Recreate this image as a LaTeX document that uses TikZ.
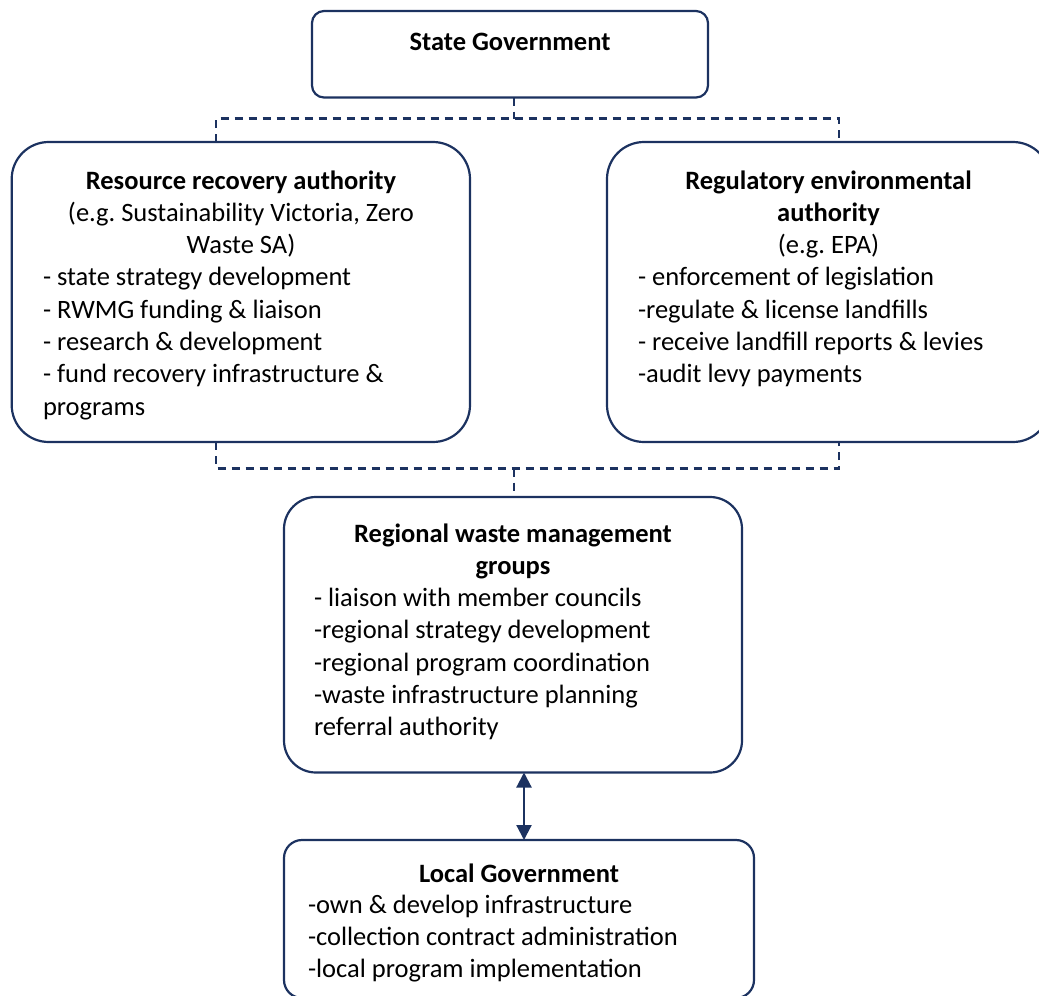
\documentclass[tikz,border=0pt]{standalone}
\usepackage{fontspec}
\setmainfont{Carlito}
\frenchspacing
\usetikzlibrary{arrows.meta}
\definecolor{navy}{RGB}{28,50,96}
\tikzset{
  box/.style={draw=navy, line width=2.2pt, fill=white, inner sep=0pt, outer sep=0pt},
  txt/.style={inner sep=0pt, outer sep=0pt, font=\fontsize{26.5}{32.3}\selectfont, text=black},
  ttl/.style={txt, font=\fontsize{26.5}{32.3}\selectfont\bfseries, anchor=base},
  item/.style={txt, anchor=base west},
  ctr/.style={txt, anchor=base},
  dashconn/.style={draw=navy, line width=2.2pt, dash pattern=on 8pt off 6pt},
  arrconn/.style={draw=navy, line width=2.2pt, {Triangle[length=15pt,width=15pt]}-{Triangle[length=15pt,width=15pt]}}
}
\begin{document}
\begin{tikzpicture}[x=1pt,y=-1pt]
\useasboundingbox (0,0) rectangle (1039,996);

% boxes
\node[box, rounded corners=12pt, minimum width=396pt, minimum height=86.5pt] (state) at (510,54.25) {};
\node[box, rounded corners=37pt, minimum width=458.3pt, minimum height=300pt] (res) at (240.85,292) {};
\node[box, rounded corners=37pt, minimum width=443pt, minimum height=300pt] (reg) at (828.5,292) {};
\node[box, rounded corners=32pt, minimum width=458pt, minimum height=275.5pt] (rwmg) at (513,634.75) {};
\node[box, rounded corners=18pt, minimum width=470pt, minimum height=158pt] (local) at (519,919) {};

% connector coordinates
\coordinate (j1) at (514,118.5);
\coordinate (tl) at (216,118.5);
\coordinate (tr) at (839,118.5);
\coordinate (j2) at (514,468.5);
\coordinate (bl) at (216,468.5);
\coordinate (br) at (839,468.5);
\coordinate (ax) at (524,800);

% connectors
\draw[dashconn] (state.south -| j1) -- (j1);
\draw[dashconn] (res.north -| tl) -- (tl) -- (tr) -- (reg.north -| tr);
\draw[dashconn] (res.south -| bl) -- (bl) -- (br) -- (reg.south -| br);
\draw[dashconn] (j2) -- (rwmg.north -| j2);
\draw[arrconn] (rwmg.south -| ax) -- (local.north -| ax);

% State Government
\node[ttl] (s1) at (510,50) {State Government};

% Resource recovery authority
\node[ttl] (a0) at (241,189) {Resource recovery authority};
\node[ctr] (a1) at (241,221.3) {(e.g. Sustainability Victoria, Zero};
\node[ctr] (a2) at (241,253.6) {Waste SA)};
\node[item] (a3) at (43,285.9) {- state strategy development};
\node[item] (a4) at (43,318.2) {- RWMG funding \& liaison};
\node[item] (a5) at (43,350.5) {- research \& development};
\node[item] (a6) at (43,382.8) {- fund recovery infrastructure \&};
\node[item] (a7) at (43,415.1) {programs};

% Regulatory environmental authority
\node[ttl] (b0) at (828.5,189) {Regulatory environmental};
\node[ttl] (b1) at (828.5,221.3) {authority};
\node[ctr] (b2) at (828.5,253.6) {(e.g. EPA)};
\node[item] (b3) at (638,285.9) {- enforcement of legislation};
\node[item] (b4) at (638,318.2) {-regulate \& license landfills};
\node[item] (b5) at (638,350.5) {- receive landfill reports \& levies};
\node[item] (b6) at (638,382.8) {-audit levy payments};

% Regional waste management groups
\node[ttl] (c0) at (513,542) {Regional waste management};
\node[ttl] (c1) at (513,574.3) {groups};
\node[item] (c2) at (314,606.6) {- liaison with member councils};
\node[item] (c3) at (314,638.9) {-regional strategy development};
\node[item] (c4) at (314,671.2) {-regional program coordination};
\node[item] (c5) at (314,703.5) {-waste infrastructure planning};
\node[item] (c6) at (314,735.8) {referral authority};

% Local Government
\node[ttl] (d0) at (519,882) {Local Government};
\node[item] (d1) at (308,913.5) {-own \& develop infrastructure};
\node[item] (d2) at (308,945.5) {-collection contract administration};
\node[item] (d3) at (308,977.5) {-local program implementation};
\end{tikzpicture}
\end{document}
